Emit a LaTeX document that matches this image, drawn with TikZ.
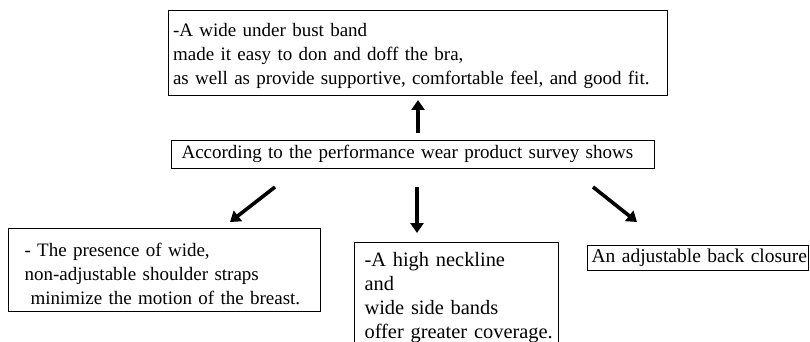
\documentclass[tikz,border=0pt]{standalone}
\usepackage{fontspec}
\setmainfont{Liberation Serif}
\usetikzlibrary{arrows.meta}
\newcommand{\toppad}[1]{\rule{0pt}{#1pt}}
\newcommand{\botpad}[1]{\rule[-#1pt]{0pt}{#1pt}}
\newcommand{\ind}{\hspace*{10pt}}
\begin{document}
\begin{tikzpicture}[x=1pt,y=-1pt,
  box/.style={draw, line width=1.1pt, anchor=north west, align=left, inner ysep=0pt,
    font=\fontsize{19}{24}\selectfont},
  arr/.style={line width=3.6pt, -{Triangle[length=10pt,width=13pt]}}]
\clip (0,0) rectangle (810,342);
\node[box, inner xsep=4.5pt, text width=490pt] (top) at (168,10)
  {\toppad{26}-A wide under bust band\\made it easy to don and doff the bra,\\as well as provide supportive, comfortable feel, and good fit.\botpad{11}};
\node[box, inner xsep=0pt, text width=483pt] (mid) at (171,140)
  {\toppad{18}\hspace*{10pt}According to the performance wear product survey shows\botpad{10}};
\node[box, inner xsep=0pt, text width=312pt] (bl) at (8,228)
  {\toppad{28}\hspace*{16pt}- The presence of wide,\\\hspace*{16pt}non-adjustable shoulder straps\\\hspace*{22pt}minimize the motion of the breast.\botpad{7}};
\node[box, inner xsep=0pt, text width=204pt, font=\fontsize{20.4}{24}\selectfont] (bm) at (354,242)
  {\toppad{24}\ind-A high neckline\\\ind and\\\ind wide side bands\\\ind offer greater coverage.\botpad{15}};
\node[box, inner xsep=0pt, text width=221pt, font=\fontsize{19.5}{24}\selectfont] (br) at (587,245)
  {\toppad{17}\hspace*{4pt}An adjustable back closure\botpad{8}};
\coordinate (a1s) at (418,133); \coordinate (a1e) at (418,100);
\coordinate (a2s) at (275,187); \coordinate (a2e) at (230,222);
\coordinate (a3s) at (417,187); \coordinate (a3e) at (417,233);
\coordinate (a4s) at (593,187); \coordinate (a4e) at (637,222);
\draw[arr] (a1s) -- (a1e);
\draw[arr] (a2s) -- (a2e);
\draw[arr] (a3s) -- (a3e);
\draw[arr] (a4s) -- (a4e);
\end{tikzpicture}
\end{document}
